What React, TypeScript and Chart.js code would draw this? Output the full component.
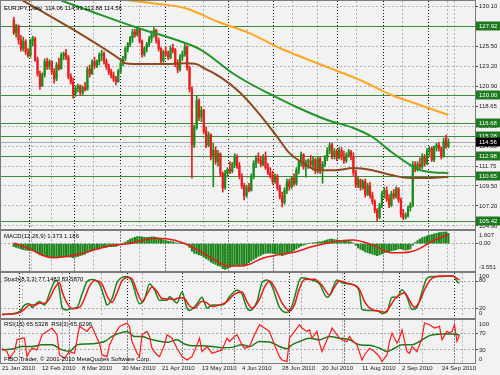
import React, { useEffect, useRef } from "react";
import { Chart, registerables } from "chart.js";

Chart.register(...registerables);

const FONT = "'Liberation Sans', Arial, sans-serif";
const BG = "#f2f2f2";
const FRAME = "#7c7c7c";
const UP = "#1c8c1c";
const DOWN = "#ee1c1c";

// ---------------- calendar / axes ----------------
const dateLabels = ["21 Jan 2010", "12 Feb 2010", "8 Mar 2010", "30 Mar 2010", "21 Apr 2010", "13 May 2010", "4 Jun 2010", "28 Jun 2010", "20 Jul 2010", "11 Aug 2010", "2 Sep 2010", "24 Sep 2010"];
const dateLabelBars = [0, 16, 32, 48, 64, 80, 96, 112, 128, 144, 160, 176];
const monthStartBars = [7, 27, 50, 72, 93, 115, 137, 159, 181];
const gridBars = [8, 24, 40, 56, 88, 104, 120, 136, 152, 168, 184];
const priceTicks = [130.1, 127.8, 125.5, 123.2, 120.9, 118.65, 116.35, 114.05, 111.75, 109.5, 107.2, 104.9];
const levelPrices = [127.92, 120.0, 116.68, 115.28, 112.98, 110.65, 105.42];
const lastPrice = 114.56;

// ---------------- daily candles (bar 0 = 21 Jan 2010) ----------------
const opens = [128.55, 127.1, 127.9, 126.3, 125.3, 126.1, 124.9, 124.5, 126.2, 126.4, 124.0, 122.4, 121.0, 122.3, 123.8, 123.2, 123.8, 122.6, 121.8, 123.4, 123.0, 124.5, 124.7, 124.3, 122.1, 121.4, 120.1, 120.7, 121.0, 120.2, 120.8, 120.6, 122.9, 122.4, 123.8, 123.3, 123.8, 124.5, 124.7, 123.8, 123.2, 122.6, 122.2, 121.8, 121.5, 122.7, 123.6, 124.2, 125.3, 125.8, 126.5, 127.2, 126.9, 127.5, 126.1, 124.6, 125.3, 125.8, 126.4, 126.9, 127.4, 126.2, 125.3, 123.9, 124.9, 124.7, 124.3, 125.3, 125.1, 123.5, 122.9, 124.3, 124.6, 125.5, 123.1, 120.6, 114.2, 116.2, 119.3, 117.4, 118.2, 115.8, 114.2, 115.4, 112.8, 113.6, 112.3, 113.2, 110.9, 109.3, 111.0, 111.4, 111.2, 112.0, 112.8, 111.8, 110.6, 109.5, 108.4, 109.3, 109.0, 110.6, 112.1, 112.7, 112.4, 112.0, 112.9, 111.6, 111.0, 110.7, 110.0, 110.6, 109.3, 108.3, 107.6, 109.0, 110.0, 109.4, 110.4, 109.8, 111.3, 112.2, 113.1, 111.7, 112.2, 112.4, 111.9, 112.5, 111.2, 112.6, 111.3, 112.0, 112.8, 113.6, 114.2, 112.9, 113.5, 112.7, 113.6, 112.9, 112.4, 113.0, 113.4, 112.8, 111.0, 109.6, 110.2, 109.3, 110.0, 108.5, 109.5, 108.4, 107.7, 106.7, 105.9, 107.2, 108.6, 109.0, 108.0, 107.3, 108.6, 108.3, 109.2, 107.9, 106.3, 105.9, 106.1, 107.0, 107.3, 111.9, 111.4, 112.0, 111.7, 112.9, 112.1, 113.5, 113.8, 112.5, 113.9, 114.2, 113.8, 112.9, 114.9, 114.06];
const highs = [128.9, 128.1, 128.0, 126.8, 126.6, 126.3, 125.3, 126.4, 126.7, 126.6, 124.3, 122.7, 122.5, 124.1, 124.2, 124.0, 123.9, 123.0, 123.7, 124.2, 124.8, 124.9, 125.2, 124.5, 122.4, 121.9, 121.0, 121.2, 121.1, 121.0, 121.4, 123.2, 123.4, 124.0, 124.3, 124.0, 124.8, 125.1, 124.9, 124.1, 123.5, 122.9, 122.6, 122.1, 122.9, 123.9, 124.4, 125.5, 126.0, 126.7, 127.5, 127.5, 127.85, 127.6, 126.3, 125.5, 126.0, 126.7, 127.3, 127.7, 127.5, 126.5, 125.4, 125.1, 125.5, 125.0, 125.6, 125.8, 125.3, 124.0, 124.6, 125.0, 125.8, 125.6, 123.3, 120.9, 116.5, 119.8, 119.5, 118.6, 118.3, 116.3, 115.7, 115.5, 114.4, 114.0, 113.6, 113.3, 111.1, 111.3, 111.6, 112.3, 112.2, 113.2, 113.1, 112.2, 110.9, 109.8, 109.6, 109.8, 110.9, 112.4, 113.0, 113.3, 112.9, 113.1, 113.4, 112.1, 111.6, 111.2, 110.9, 110.8, 109.6, 108.8, 109.3, 110.3, 110.3, 110.6, 110.9, 111.6, 112.4, 113.4, 113.2, 112.5, 112.6, 113.0, 112.9, 112.7, 112.9, 112.8, 112.3, 113.0, 113.9, 114.45, 114.4, 113.8, 113.7, 113.9, 113.9, 113.5, 113.3, 113.7, 113.6, 113.3, 111.3, 110.5, 110.3, 110.2, 110.3, 109.8, 109.9, 108.8, 107.9, 106.9, 107.5, 108.9, 109.3, 109.4, 108.5, 108.9, 109.1, 109.4, 109.3, 108.1, 106.8, 106.4, 107.2, 107.6, 112.3, 112.3, 112.3, 112.7, 113.2, 113.1, 113.8, 114.0, 114.0, 114.1, 114.4, 114.5, 114.0, 115.0, 115.35, 114.93];
const lows = [126.9, 126.6, 125.8, 125.0, 125.0, 124.6, 124.3, 124.3, 125.6, 123.8, 122.1, 120.6, 120.9, 122.0, 122.9, 122.9, 122.3, 121.3, 121.6, 122.8, 122.9, 124.0, 124.0, 121.8, 121.2, 119.6, 119.8, 120.3, 119.9, 120.0, 120.4, 120.5, 122.0, 122.3, 123.0, 123.1, 123.4, 123.9, 123.5, 122.9, 122.3, 121.9, 121.5, 121.1, 121.4, 122.4, 123.3, 123.9, 124.9, 125.5, 126.0, 126.6, 126.7, 125.9, 124.3, 124.4, 124.9, 125.5, 126.0, 126.6, 125.9, 125.0, 123.6, 123.7, 124.4, 124.0, 124.1, 124.8, 123.2, 122.5, 122.7, 123.9, 124.4, 122.8, 120.3, 110.4, 113.9, 116.0, 117.0, 116.9, 115.5, 113.9, 114.0, 112.5, 109.4, 112.0, 111.8, 110.6, 108.8, 109.1, 110.6, 110.9, 111.0, 111.6, 111.5, 110.3, 109.2, 107.9, 108.2, 108.8, 108.9, 110.3, 111.6, 112.1, 111.7, 111.8, 111.4, 110.8, 110.4, 109.7, 109.8, 109.0, 108.0, 107.1, 107.4, 108.6, 109.0, 109.2, 109.5, 109.6, 110.9, 111.8, 111.4, 110.5, 111.5, 111.6, 111.3, 110.9, 111.0, 110.9, 109.8, 111.7, 112.4, 113.2, 112.6, 112.6, 112.4, 112.6, 112.5, 112.1, 112.2, 112.8, 112.5, 110.7, 109.3, 109.3, 109.0, 109.1, 108.2, 108.4, 108.1, 107.4, 106.4, 105.42, 105.7, 107.0, 108.1, 107.7, 107.0, 107.1, 108.0, 108.1, 107.6, 105.9, 105.6, 105.7, 105.9, 106.6, 107.1, 111.1, 111.2, 111.4, 111.5, 111.8, 111.9, 113.0, 112.3, 112.3, 113.5, 113.5, 112.6, 112.8, 113.8, 113.88];
const closes = [127.1, 127.9, 126.3, 125.3, 126.1, 124.9, 124.5, 126.2, 126.4, 124.0, 122.4, 121.0, 122.3, 123.8, 123.2, 123.8, 122.6, 121.8, 123.4, 123.0, 124.5, 124.7, 124.3, 122.1, 121.4, 120.1, 120.7, 121.0, 120.2, 120.8, 120.6, 122.9, 122.4, 123.8, 123.3, 123.8, 124.5, 124.7, 123.8, 123.2, 122.6, 122.2, 121.8, 121.5, 122.7, 123.6, 124.2, 125.3, 125.8, 126.5, 127.2, 126.9, 127.5, 126.1, 124.6, 125.3, 125.8, 126.4, 126.9, 127.4, 126.2, 125.3, 123.9, 124.9, 124.7, 124.3, 125.3, 125.1, 123.5, 122.9, 124.3, 124.6, 125.5, 123.1, 120.6, 114.2, 116.2, 119.3, 117.4, 118.2, 115.8, 114.2, 115.4, 112.8, 113.6, 112.3, 113.2, 110.9, 109.3, 111.0, 111.4, 111.2, 112.0, 112.8, 111.8, 110.6, 109.5, 108.4, 109.3, 109.0, 110.6, 112.1, 112.7, 112.4, 112.0, 112.9, 111.6, 111.0, 110.7, 110.0, 110.6, 109.3, 108.3, 107.6, 109.0, 110.0, 109.4, 110.4, 109.8, 111.3, 112.2, 113.1, 111.7, 112.2, 112.4, 111.9, 112.5, 111.2, 112.6, 111.3, 112.0, 112.8, 113.6, 114.2, 112.9, 113.5, 112.7, 113.6, 112.9, 112.4, 113.0, 113.4, 112.8, 111.0, 109.6, 110.2, 109.3, 110.0, 108.5, 109.5, 108.4, 107.7, 106.7, 105.9, 107.2, 108.6, 109.0, 108.0, 107.3, 108.6, 108.3, 109.2, 107.9, 106.3, 105.9, 106.1, 107.0, 107.3, 111.9, 111.4, 112.0, 111.7, 112.9, 112.1, 113.5, 113.8, 112.5, 113.9, 114.2, 113.8, 112.9, 114.6, 114.06, 114.56];

// ---------------- moving averages (read at sample bars) ----------------
const maBrownBars = [0, 11, 23, 39, 45, 47, 55, 63, 72, 77, 80, 87, 95, 103, 111, 116, 122, 128, 135, 143, 151, 159, 167, 175, 183];
const maBrownValues = [131.4, 129.7, 127.8, 125.1, 124.0, 123.6, 123.5, 123.5, 123.6, 123.5, 123.05, 122.0, 120.3, 117.9, 115.1, 113.3, 112.1, 111.3, 111.3, 111.55, 111.3, 110.75, 110.4, 110.4, 110.55];
const maGreenBars = [20, 31, 51, 71, 79, 92, 99, 107, 119, 132, 143, 151, 159, 167, 171, 175, 183];
const maGreenValues = [130.8, 129.72, 127.77, 126.04, 125.12, 122.48, 121.33, 120.18, 118.57, 117.08, 116.16, 115.12, 113.4, 111.9, 111.33, 111.1, 110.98];
const maOrangeBars = [30, 48, 60, 72, 87, 99, 112, 119, 132, 146, 159, 171, 183];
const maOrangeValues = [131.6, 130.85, 130.45, 129.95, 128.25, 127.1, 125.35, 124.55, 123.15, 121.65, 119.95, 118.8, 117.65];

// ---------------- MACD(12,26,9) ----------------
const macdHist = [
  -0.4, -0.5, -0.6, -0.7, -0.8, -0.85, -0.9, -0.9,
  -0.95, -1.1, -1.3, -1.5, -1.6, -1.65, -1.7, -1.75,
  -1.8, -1.85, -1.9, -1.85, -1.8, -1.75, -1.7, -1.75,
  -1.8, -1.85, -1.8, -1.7, -1.6, -1.5, -1.4, -1.2,
  -1.05, -0.9, -0.75, -0.65, -0.55, -0.5, -0.45, -0.45,
  -0.4, -0.4, -0.4, -0.35, -0.25, -0.1, 0.05, 0.2,
  0.4, 0.6, 0.75, 0.85, 0.95, 0.95, 0.9, 0.85,
  0.85, 0.85, 0.9, 0.9, 0.85, 0.75, 0.6, 0.5,
  0.4, 0.35, 0.3, 0.25, 0.15, 0.05, 0.0, 0.02,
  0.05, -0.1, -0.5, -1.0, -1.3, -1.35, -1.5, -1.6,
  -1.8, -2.0, -2.2, -2.45, -2.6, -2.75, -2.9, -3.0,
  -3.3, -3.4, -3.3, -3.15, -3.0, -2.9, -2.85, -2.9,
  -2.9, -2.95, -2.8, -2.5, -2.3, -2.1, -1.9, -1.7,
  -1.55, -1.4, -1.3, -1.25, -1.25, -1.3, -1.35, -1.4,
  -1.5, -1.6, -1.5, -1.35, -1.2, -1.05, -0.9, -0.7,
  -0.5, -0.3, -0.2, -0.1, 0.0, 0.05, 0.1, 0.15,
  0.2, 0.25, 0.3, 0.4, 0.5, 0.6, 0.6, 0.55,
  0.5, 0.45, 0.4, 0.35, 0.3, 0.3, 0.2, 0.05,
  -0.25, -0.55, -0.75, -0.9, -1.1, -1.2, -1.3, -1.4,
  -1.5, -1.6, -1.5, -1.35, -1.2, -1.1, -1.05, -0.95,
  -0.9, -0.8, -0.7, -0.7, -0.8, -0.85, -0.8, -0.7,
  -0.2, 0.15, 0.4, 0.6, 0.8, 0.9, 1.05, 1.15,
  1.2, 1.3, 1.38, 1.45, 1.5, 1.56, 1.607, 1.373,
];
const macdSignalBars = [0, 7, 16, 26, 32, 39, 50, 59, 65, 71, 79, 85, 90, 95, 99, 105, 112, 119, 125, 132, 138, 143, 148, 152, 159, 163, 168, 172, 176, 180, 183];
const macdSignalValues = [0.1, -0.75, -1.85, -1.5, -1.0, -0.4, 0.1, 0.72, 0.6, 0.12, -1.1, -2.2, -2.95, -2.95, -2.75, -1.9, -1.45, -1.06, -0.45, 0.05, 0.4, 0.48, 0.15, -0.3, -1.2, -1.2, -1.0, -0.45, 0.3, 0.85, 1.186];
const macdMax = 1.607;
const macdMin = -3.551;

// ---------------- Stochastic(8,3,3) ----------------
const stochMainBars = [0, 3, 7, 9, 11, 12, 14, 15, 17, 19, 21, 22, 23, 24, 26, 27, 30, 32, 34, 36, 39, 41, 42, 44, 46, 48, 50, 52, 55, 57, 59, 61, 63, 66, 67, 70, 72, 74, 75, 78, 80, 81, 82, 84, 87, 89, 91, 94, 96, 98, 99, 102, 104, 106, 108, 111, 114, 116, 119, 120, 124, 127, 130, 131, 134, 136, 139, 142, 143, 144, 147, 150, 152, 154, 156, 158, 160, 162, 164, 166, 168, 170, 172, 175, 179, 181, 182, 183];
const stochMainValues = [5, 7, 12, 27, 30, 22, 32, 35, 27, 54, 80, 83, 60, 22, 16, 19, 22, 52, 80, 85, 75, 43, 27, 42, 78, 90, 92, 80, 30, 40, 75, 62, 38, 38, 46, 32, 57, 20, 15, 30, 45, 33, 20, 27, 27, 30, 46, 61, 52, 20, 15, 35, 78, 84, 70, 22, 10, 25, 84, 89, 84, 75, 45, 48, 84, 78, 75, 68, 55, 17, 15, 15, 8, 12, 45, 45, 62, 45, 17, 22, 57, 88, 92, 92, 93, 92, 80, 77.1483];
const stochSignalBars = [0, 3, 7, 9, 11, 13, 15, 17, 19, 21, 23, 24, 26, 28, 31, 33, 35, 37, 40, 42, 44, 46, 48, 50, 52, 54, 56, 58, 60, 62, 64, 67, 69, 71, 73, 75, 77, 80, 82, 84, 87, 90, 93, 96, 98, 100, 103, 105, 107, 109, 112, 115, 117, 119, 121, 125, 128, 131, 133, 135, 138, 141, 143, 145, 148, 151, 153, 155, 157, 159, 161, 163, 165, 167, 169, 171, 173, 176, 180, 182, 183];
const stochSignalValues = [6, 6, 10, 18, 27, 27, 31, 31, 42, 65, 78, 58, 32, 19, 22, 42, 70, 83, 75, 48, 33, 55, 82, 90, 87, 58, 36, 52, 68, 58, 42, 41, 40, 44, 42, 25, 20, 36, 32, 24, 27, 35, 52, 57, 35, 20, 40, 68, 82, 68, 32, 14, 28, 65, 85, 86, 72, 50, 68, 82, 77, 72, 63, 35, 17, 13, 11, 22, 40, 50, 55, 38, 22, 35, 62, 82, 91, 93, 93, 88, 83.587];

// ---------------- RSI(15) and RSI(3) ----------------
const rsiSlowBars = [0, 4, 8, 12, 16, 20, 24, 27, 30, 34, 38, 41, 44, 47, 50, 53, 56, 59, 62, 66, 70, 73, 76, 80, 84, 88, 92, 96, 99, 103, 107, 111, 114, 116, 119, 123, 127, 131, 135, 139, 143, 147, 151, 154, 157, 160, 164, 167, 171, 176, 180, 183];
const rsiSlowValues = [30, 32, 38, 38, 42, 42, 30, 27, 42, 44, 46, 50, 62, 70, 74, 62, 62, 56, 52, 48, 54, 44, 40, 40, 38, 35, 36, 42, 38, 50, 49, 38, 33, 42, 50, 58, 54, 62, 58, 54, 42, 41, 34, 26, 34, 42, 42, 50, 64, 68, 68, 65.5328];
const rsiFastBars = [0, 2, 3, 5, 6, 8, 9, 10, 11, 12, 14, 16, 18, 20, 22, 23, 25, 27, 29, 31, 32, 34, 35, 36, 38, 39, 40, 42, 43, 45, 47, 50, 51, 52, 54, 55, 56, 58, 59, 60, 62, 63, 65, 66, 68, 70, 72, 74, 76, 78, 79, 80, 82, 84, 86, 88, 90, 91, 93, 94, 96, 97, 99, 101, 103, 105, 107, 109, 111, 112, 114, 115, 117, 119, 120, 122, 123, 124, 126, 127, 128, 130, 131, 132, 134, 135, 136, 138, 139, 140, 142, 144, 145, 147, 149, 151, 152, 154, 155, 156, 158, 159, 160, 162, 163, 164, 166, 168, 169, 171, 173, 175, 176, 178, 179, 180, 181, 182, 183];
const rsiFastValues = [34, 26, 10, 26, 54, 58, 58, 14, 26, 34, 30, 66, 74, 82, 66, 18, 10, 26, 22, 86, 82, 74, 82, 86, 58, 46, 18, 14, 42, 66, 86, 94, 86, 50, 22, 14, 66, 74, 62, 34, 18, 14, 42, 66, 58, 34, 14, 6, 14, 42, 58, 26, 38, 22, 26, 30, 58, 50, 62, 66, 42, 34, 38, 66, 90, 82, 74, 42, 14, 6, 2, 58, 74, 90, 82, 74, 78, 58, 74, 46, 26, 54, 66, 82, 66, 58, 54, 50, 62, 54, 42, 6, 18, 34, 26, 14, 2, 18, 50, 70, 46, 58, 78, 26, 22, 38, 26, 58, 94, 90, 82, 86, 54, 74, 70, 74, 90, 50, 65.6296];

// ---------------- texts ----------------
const mainTitle = "EURJPY,Daily  114.06 114.93 113.88 114.56";
const macdTitle = "MACD(12,26,9) 1.373 1.186";
const stochTitle = "Stoch(8,3,3) 77.1483 83.5870";
const rsiTitle = "RSI(15) 65.5328  RSI(3) 65.6296";
const copyright = "FIBO Trader, © 2001-2010 MetaQuotes Software Corp.";

// ---------------- helpers ----------------
const X_MIN = -0.8;
const X_MAX = 189.2;
const pts = (bars: number[], vals: number[]) => bars.map((b, k) => ({ x: b, y: vals[k] }));
const vGridBars = [...gridBars, ...monthStartBars].sort((a, b) => a - b);
const barIdx = closes.map((_, i) => i);

const xGrid = () => ({
  type: "linear",
  position: "bottom",
  min: X_MIN,
  max: X_MAX,
  afterBuildTicks: (s: any) => {
    s.ticks = vGridBars.map((v) => ({ value: v }));
  },
  afterFit: (s: any) => {
    s.height = 0;
    s.paddingLeft = 0;
    s.paddingRight = 0;
  },
  ticks: { display: false },
  grid: {
    drawTicks: false,
    lineWidth: 1,
    color: (c: any) => (monthStartBars.includes(c.tick?.value) ? "#141414" : "#b4b4b4"),
  },
  border: { display: false, dash: (c: any) => (monthStartBars.includes(c.tick?.value) ? [1, 2] : [2, 2]) },
});

const ySub = (min: number, max: number, levels: number[]) => ({
  type: "linear",
  position: "right",
  min,
  max,
  afterBuildTicks: (s: any) => {
    s.ticks = levels.map((v) => ({ value: v }));
  },
  afterFit: (s: any) => {
    s.width = 25;
    s.paddingTop = 0;
    s.paddingBottom = 0;
  },
  ticks: { display: false },
  grid: { color: "#a8a8a8", tickColor: "#444", tickLength: 3, drawTicks: true },
  border: { display: false, dash: [2, 2] },
});

type AxisLabel = { v: number; t: string; dy: number };
type PanelText = { t: string; x: number; y: number };

const decor = (labels: AxisLabel[], texts: PanelText[]) => ({
  id: "decor",
  afterDraw(chart: any) {
    const { ctx, chartArea: a } = chart;
    const y = chart.scales.y;
    ctx.save();
    ctx.font = `6px ${FONT}`;
    ctx.textBaseline = "middle";
    ctx.textAlign = "left";
    ctx.fillStyle = "#222";
    for (const l of labels) ctx.fillText(l.t, a.right + 4, y.getPixelForValue(l.v) + l.dy);
    ctx.fillStyle = "#000";
    for (const tx of texts) ctx.fillText(tx.t, tx.x, tx.y);
    ctx.restore();
  },
});

const basePlugins = { legend: { display: false }, tooltip: { enabled: false } };

// ---------------- panel configs ----------------
const mainConfig = () => {
  const levelsPlugin = {
    id: "levels",
    beforeDatasetsDraw(chart: any) {
      const { ctx, chartArea: a } = chart;
      const y = chart.scales.y;
      ctx.save();
      ctx.lineWidth = 1;
      ctx.strokeStyle = "#3c8c3c";
      for (const v of levelPrices) {
        const py = Math.round(y.getPixelForValue(v)) + 0.5;
        ctx.beginPath();
        ctx.moveTo(a.left, py);
        ctx.lineTo(a.right, py);
        ctx.stroke();
      }
      ctx.strokeStyle = "#a9a9c4";
      const pp = Math.round(y.getPixelForValue(lastPrice)) + 0.5;
      ctx.beginPath();
      ctx.moveTo(a.left, pp);
      ctx.lineTo(a.right, pp);
      ctx.stroke();
      ctx.restore();
    },
    afterDraw(chart: any) {
      const { ctx, chartArea: a } = chart;
      const y = chart.scales.y;
      ctx.save();
      ctx.font = `6px ${FONT}`;
      ctx.textBaseline = "middle";
      ctx.textAlign = "left";
      const box = (v: number, bg: string) => {
        const py = Math.round(y.getPixelForValue(v));
        ctx.fillStyle = bg;
        ctx.fillRect(a.right + 1, py - 4.5, 24, 9);
        ctx.fillStyle = "#ffffff";
        ctx.fillText(v.toFixed(2), a.right + 4, py);
      };
      for (const v of levelPrices) box(v, "#1f7a1f");
      box(lastPrice, "#000000");
      ctx.fillStyle = "#000";
      ctx.fillText(mainTitle, 4, 8);
      ctx.restore();
    },
  };
  return {
    type: "bar",
    data: {
      datasets: [
        { type: "line", data: pts(maBrownBars, maBrownValues), borderColor: "#8e4a1e", borderWidth: 2, pointRadius: 0, cubicInterpolationMode: "monotone", order: 0 },
        { type: "line", data: pts(maGreenBars, maGreenValues), borderColor: "#23952b", borderWidth: 2, pointRadius: 0, cubicInterpolationMode: "monotone", order: 0 },
        { type: "line", data: pts(maOrangeBars, maOrangeValues), borderColor: "#ffa722", borderWidth: 2, pointRadius: 0, cubicInterpolationMode: "monotone", order: 0 },
        {
          type: "bar",
          data: barIdx.map((i) => ({ x: i, y: [opens[i], closes[i]] })),
          backgroundColor: barIdx.map((i) => (closes[i] >= opens[i] ? UP : DOWN)),
          barThickness: 1.6,
          minBarLength: 1,
          grouped: false,
          order: 1,
        },
        {
          type: "bar",
          data: barIdx.map((i) => ({ x: i, y: [lows[i], highs[i]] })),
          backgroundColor: barIdx.map((i) => (closes[i] >= opens[i] ? UP : DOWN)),
          barThickness: 1,
          grouped: false,
          order: 2,
        },
      ],
    },
    options: {
      responsive: false,
      animation: false,
      layout: { padding: { top: 1, bottom: 1, left: 0, right: 0 } },
      plugins: basePlugins,
      scales: {
        x: xGrid(),
        y: {
          type: "linear",
          position: "right",
          min: 104.548,
          max: 130.755,
          afterBuildTicks: (s: any) => {
            s.ticks = priceTicks.map((v) => ({ value: v }));
          },
          afterFit: (s: any) => {
            s.width = 25;
            s.paddingTop = 0;
            s.paddingBottom = 0;
          },
          ticks: { font: { family: FONT, size: 6 }, color: "#222", padding: 1, callback: (v: any) => Number(v).toFixed(2) },
          grid: { color: "#b4b4b4", tickColor: "#444", tickLength: 3, drawTicks: true },
          border: { display: false, dash: [2, 2] },
        },
      },
    },
    plugins: [levelsPlugin],
  };
};

const macdConfig = () => ({
  type: "bar",
  data: {
    datasets: [
      { type: "line", data: pts(macdSignalBars, macdSignalValues), borderColor: "#ee1818", borderWidth: 1.5, pointRadius: 0, cubicInterpolationMode: "monotone", order: 0 },
      { type: "bar", data: macdHist.map((v, i) => ({ x: i, y: v })), backgroundColor: "#1c861c", barThickness: 1.5, grouped: false, order: 1 },
    ],
  },
  options: {
    responsive: false,
    animation: false,
    layout: { padding: { top: 1.5, bottom: 1.5, left: 0, right: 0 } },
    plugins: basePlugins,
    scales: { x: xGrid(), y: ySub(macdMin, macdMax, [0]) },
  },
  plugins: [
    decor(
      [
        { v: macdMax, t: macdMax.toFixed(3), dy: 3.5 },
        { v: 0, t: "0.00", dy: 0 },
        { v: macdMin, t: macdMin.toFixed(3), dy: -3.5 },
      ],
      [{ t: macdTitle, x: 4, y: 6 }]
    ),
  ],
});

const stochConfig = () => ({
  type: "line",
  data: {
    datasets: [
      { data: pts(stochSignalBars, stochSignalValues), borderColor: "#ee1818", borderWidth: 1.5, pointRadius: 0, cubicInterpolationMode: "monotone", order: 0 },
      { data: pts(stochMainBars, stochMainValues), borderColor: "#1c861c", borderWidth: 1.5, pointRadius: 0, cubicInterpolationMode: "monotone", order: 1 },
    ],
  },
  options: {
    responsive: false,
    animation: false,
    layout: { padding: { top: 1, bottom: 1, left: 0, right: 0 } },
    plugins: basePlugins,
    scales: { x: xGrid(), y: ySub(0, 100, [20, 80]) },
  },
  plugins: [
    decor(
      [
        { v: 100, t: "100", dy: 3.5 },
        { v: 80, t: "80", dy: -1 },
        { v: 20, t: "20", dy: 0 },
        { v: 0, t: "0", dy: -3.5 },
      ],
      [{ t: stochTitle, x: 4, y: 7 }]
    ),
  ],
});

const rsiConfig = () => ({
  type: "line",
  data: {
    datasets: [
      { data: pts(rsiFastBars, rsiFastValues), borderColor: "#ff1a1a", borderWidth: 1.2, pointRadius: 0, tension: 0, order: 0, xAxisID: "x", yAxisID: "y" },
      { data: pts(rsiSlowBars, rsiSlowValues), borderColor: "#1c7a1c", borderWidth: 1.5, pointRadius: 0, cubicInterpolationMode: "monotone", order: 1, xAxisID: "x", yAxisID: "y" },
    ],
  },
  options: {
    responsive: false,
    animation: false,
    layout: { padding: { top: 2.5, bottom: 0, left: 0, right: 0 } },
    plugins: basePlugins,
    scales: {
      x: xGrid(),
      xd: {
        type: "linear",
        position: "bottom",
        min: X_MIN,
        max: X_MAX,
        afterBuildTicks: (s: any) => {
          s.ticks = dateLabelBars.map((v) => ({ value: v }));
        },
        afterFit: (s: any) => {
          s.height = 12.5;
          s.paddingLeft = 0;
          s.paddingRight = 0;
        },
        ticks: {
          autoSkip: false,
          maxRotation: 0,
          minRotation: 0,
          align: "start",
          padding: 2,
          color: "#222",
          font: { family: FONT, size: 6 },
          callback: (v: any) => dateLabels[dateLabelBars.indexOf(Number(v))] ?? "",
        },
        grid: { display: false, drawTicks: false },
        border: { display: false },
      },
      y: ySub(0, 100, [30, 70]),
    },
  },
  plugins: [
    decor(
      [
        { v: 100, t: "100", dy: 3.5 },
        { v: 70, t: "70", dy: 0 },
        { v: 30, t: "30", dy: 0 },
        { v: 0, t: "0", dy: -3.5 },
      ],
      [
        { t: rsiTitle, x: 4, y: 6.5 },
        { t: copyright, x: 4, y: 41.5 },
      ]
    ),
  ],
});

function Panel({ top, height, make }: { top: number; height: number; make: () => any }) {
  const ref = useRef<HTMLCanvasElement | null>(null);
  useEffect(() => {
    const c = ref.current;
    if (!c) return;
    const chart = new Chart(c, make());
    return () => chart.destroy();
  }, []);
  return (
    <canvas
      ref={ref}
      width={500}
      height={height}
      style={{ position: "absolute", left: 0, top, width: 500, height, display: "block" }}
    />
  );
}

const line = (left: number, top: number, width: number, height: number) => (
  <div style={{ position: "absolute", left, top, width, height, background: FRAME }} />
);

export default function App() {
  return (
    <div style={{ position: "absolute", left: 0, top: 0, width: 500, height: 375, background: BG, overflow: "hidden" }}>
      <Panel top={0} height={230} make={mainConfig} />
      <Panel top={230} height={42} make={macdConfig} />
      <Panel top={272} height={46} make={stochConfig} />
      <Panel top={318} height={57} make={rsiConfig} />
      {line(0, 0, 476, 1)}
      {line(0, 0, 1, 364)}
      {line(475, 0, 1, 364)}
      {line(0, 229, 476, 2)}
      {line(0, 271, 476, 2)}
      {line(0, 318, 476, 2)}
      {line(0, 363, 476, 1)}
    </div>
  );
}
